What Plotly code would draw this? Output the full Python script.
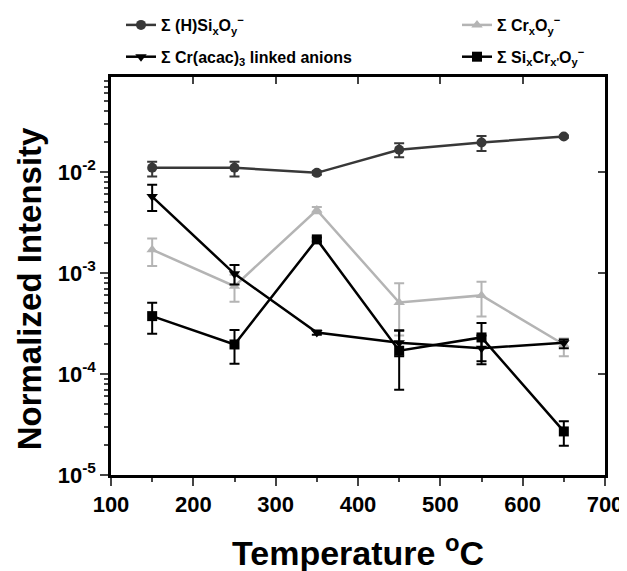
import plotly.graph_objects as go

temps = [150, 250, 350, 450, 550, 650]

names = [
    "Σ (H)Si<sub>x</sub>O<sub>y</sub><sup>−</sup>",
    "Σ Cr<sub>x</sub>O<sub>y</sub><sup>−</sup>",
    "Σ Cr(acac)<sub>3</sub> linked anions",
    "Σ Si<sub>x</sub>Cr<sub>x'</sub>O<sub>y</sub><sup>−</sup>",
]

sio_y = [0.011, 0.011, 0.0098, 0.0166, 0.0196, 0.0224]
sio_hi = [0.0126, 0.0126, 0.0102, 0.0192, 0.0227, 0.0230]
sio_lo = [0.0090, 0.0090, 0.0094, 0.0140, 0.0161, 0.0218]

cro_y = [0.0017, 0.00074, 0.0042, 0.00051, 0.0006, 0.000196]
cro_hi = [0.0022, 0.00096, 0.0045, 0.00079, 0.00082, 0.000224]
cro_lo = [0.00117, 0.00052, 0.0039, 0.00024, 0.00037, 0.00015]

acac_y = [0.0057, 0.00098, 0.000257, 0.000204, 0.00018, 0.000204]
acac_hi = [0.00745, 0.0012, 0.00027, 0.00027, 0.00024, 0.00022]
acac_lo = [0.0041, 0.00077, 0.000245, 0.00015, 0.000125, 0.00018]

sicr_y = [0.000374, 0.000196, 0.00215, 0.00017, 0.00023, 0.000027]
sicr_hi = [0.000506, 0.000272, 0.00225, 0.00027, 0.00032, 0.000034]
sicr_lo = [0.00025, 0.000126, 0.00205, 0.00007, 0.000134, 0.0000195]

series = [
    (names[0], sio_y, sio_hi, sio_lo, "#383838", "circle", "legend"),
    (names[1], cro_y, cro_hi, cro_lo, "#b4b4b4", "triangle-up", "legend2"),
    (names[2], acac_y, acac_hi, acac_lo, "#000000", "triangle-down", "legend"),
    (names[3], sicr_y, sicr_hi, sicr_lo, "#000000", "square", "legend2"),
]

x_ticks = [100, 200, 300, 400, 500, 600, 700]
y_ticks = [1e-5, 1e-4, 1e-3, 1e-2]
y_ticktext = ["10<sup>-5</sup>", "10<sup>-4</sup>", "10<sup>-3</sup>", "10<sup>-2</sup>"]

FONT = "Liberation Sans"
W, H = 619, 563

fig = go.Figure()
for i, (name, ys, hi, lo, col, sym, lg) in enumerate(series):
    fig.add_trace(go.Scatter(
        x=temps, y=ys, name=name, mode="lines+markers",
        legend=lg, legendgroup=f"g{i}",
        line=dict(color=col, width=2.5),
        marker=dict(symbol=sym, size=10, color=col),
        error_y=dict(type="data", symmetric=False,
                     array=[h - v for h, v in zip(hi, ys)],
                     arrayminus=[v - l for v, l in zip(ys, lo)],
                     color=col, thickness=2, width=5),
    ))

# dummy trace to anchor mirrored axes
fig.add_trace(go.Scatter(x=[None], y=[None], xaxis="x2", yaxis="y2",
                         showlegend=False, hoverinfo="skip"))

minor_y = [m * 10 ** e for e in range(-5, -1) for m in range(2, 10)]

legend_common = dict(
    orientation="v", xref="container", yref="container",
    xanchor="left", yanchor="top", tracegroupgap=8,
    font=dict(family=FONT, size=16, weight="bold"),
    bgcolor="rgba(0,0,0,0)",
)

fig.update_layout(
    width=W, height=H,
    margin=dict(l=103, r=22, t=69, b=96, autoexpand=False),
    plot_bgcolor="white", paper_bgcolor="white",
    font=dict(family=FONT, color="black"),
    showlegend=True,
    legend=dict(x=113 / W, y=1.0, **legend_common),
    legend2=dict(x=449 / W, y=1.0, **legend_common),
    xaxis=dict(
        range=[100, 700], tickvals=x_ticks, ticks="outside", ticklen=8,
        tickwidth=2, linewidth=2.5, linecolor="black", showline=True,
        showgrid=False, zeroline=False,
        tickfont=dict(family=FONT, size=22, weight="bold"),
        minor=dict(tickvals=[150, 250, 350, 450, 550, 650], ticks="outside",
                   ticklen=4, tickwidth=2, showgrid=False),
    ),
    yaxis=dict(
        type="log", range=[-5, -1.06], tickvals=y_ticks, ticktext=y_ticktext,
        ticks="outside", ticklen=8, tickwidth=2, linewidth=2.5,
        linecolor="black", showline=True, showgrid=False, zeroline=False,
        tickfont=dict(family=FONT, size=22, weight="bold"),
        minor=dict(tickvals=minor_y, ticks="outside", ticklen=4,
                   tickwidth=1.5, showgrid=False),
    ),
    xaxis2=dict(
        overlaying="x", side="top", range=[100, 700], tickvals=x_ticks,
        ticks="inside", ticklen=7, tickwidth=2, showticklabels=False,
        showline=True, linewidth=2.5, linecolor="black", showgrid=False,
        zeroline=False,
    ),
    yaxis2=dict(
        overlaying="y", side="right", type="log", range=[-5, -1.06],
        tickvals=y_ticks, ticks="inside", ticklen=7, tickwidth=2,
        showticklabels=False, showline=True, linewidth=2.5,
        linecolor="black", showgrid=False, zeroline=False,
    ),
    annotations=[
        dict(text="Normalized Intensity", xref="paper", yref="paper",
             x=-0.166, y=0.469, xanchor="center", yanchor="middle",
             textangle=-90, showarrow=False,
             font=dict(family=FONT, size=33, weight="bold")),
        dict(text="Temperature <sup>o</sup>C", xref="paper", yref="paper",
             x=0.5, y=-0.19, xanchor="center", yanchor="middle",
             showarrow=False,
             font=dict(family=FONT, size=34, weight="bold")),
    ],
)

fig.write_html("out.html")
